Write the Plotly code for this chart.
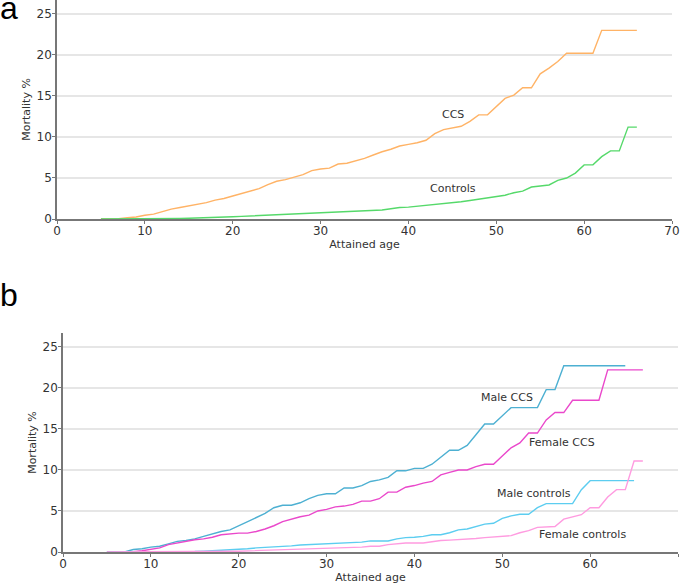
import plotly.graph_objects as go

# attained age, one point per year
ages = list(range(5, 67))

# panel a
ccs = [0, 0, 0.05, 0.15, 0.25, 0.45, 0.6, 0.9, 1.2, 1.4, 1.6, 1.8, 2.0, 2.3, 2.5, 2.8,
       3.1, 3.4, 3.7, 4.2, 4.6, 4.8, 5.1, 5.4, 5.9, 6.1, 6.2, 6.7, 6.8, 7.1, 7.4, 7.8,
       8.2, 8.5, 8.9, 9.1, 9.3, 9.6, 10.4, 10.9, 11.1, 11.3, 11.9, 12.7, 12.7, 13.7,
       14.7, 15.1, 16.0, 16.0, 17.7, 18.4, 19.2, 20.2, 20.2, 20.2, 20.2, 23.0, 23.0,
       23.0, 23.0, 23.0]
controls = [0, 0, 0.01, 0.02, 0.03, 0.04, 0.05, 0.06, 0.07, 0.08, 0.1, 0.12, 0.15, 0.18,
            0.22, 0.27, 0.32, 0.37, 0.42, 0.46, 0.5, 0.55, 0.6, 0.65, 0.68, 0.72, 0.78,
            0.82, 0.86, 0.9, 0.95, 1.0, 1.1, 1.25, 1.4, 1.45, 1.55, 1.65, 1.75, 1.85, 2.0,
            2.1, 2.25, 2.4, 2.55, 2.7, 2.9, 3.2, 3.4, 3.9, 4.0, 4.15, 4.7, 5.0, 5.6, 6.6,
            6.6, 7.6, 8.3, 8.3, 11.2, 11.2]

# panel b
male_ccs = [0, 0, 0, 0.3, 0.4, 0.6, 0.7, 1.0, 1.3, 1.4, 1.6, 1.9, 2.2, 2.5, 2.7, 3.2,
            3.8, 4.3, 4.7, 5.4, 5.7, 5.7, 6.0, 6.5, 6.9, 7.1, 7.1, 7.8, 7.8, 8.1, 8.6,
            8.8, 9.1, 9.9, 9.9, 10.2, 10.2, 10.7, 11.5, 12.4, 12.4, 13.0, 14.3, 15.6,
            15.6, 16.6, 17.6, 17.6, 17.6, 17.6, 19.8, 19.8, 22.7, 22.7, 22.7, 22.7, 22.7,
            22.7, 22.7, 22.7]
female_ccs = [0, 0, 0, 0.05, 0.15, 0.3, 0.5, 0.9, 1.1, 1.3, 1.5, 1.6, 1.8, 2.1, 2.2, 2.3,
              2.3, 2.5, 2.8, 3.2, 3.7, 4.0, 4.3, 4.5, 5.0, 5.2, 5.5, 5.6, 5.8, 6.2, 6.2,
              6.5, 7.3, 7.3, 7.9, 8.1, 8.4, 8.6, 9.4, 9.7, 10.0, 10.0, 10.4, 10.7, 10.7,
              11.7, 12.7, 13.3, 14.5, 14.5, 16.1, 17.0, 17.0, 18.5, 18.5, 18.5, 18.5,
              22.2, 22.2, 22.2, 22.2, 22.2]
male_controls = [0, 0, 0, 0, 0.01, 0.02, 0.02, 0.03, 0.04, 0.05, 0.06, 0.1, 0.15, 0.2,
                 0.25, 0.3, 0.4, 0.5, 0.55, 0.6, 0.7, 0.75, 0.85, 0.9, 0.95, 1.0, 1.1,
                 1.1, 1.15, 1.2, 1.35, 1.35, 1.35, 1.6, 1.75, 1.8, 1.9, 2.1, 2.1, 2.35,
                 2.7, 2.8, 3.1, 3.4, 3.5, 4.1, 4.4, 4.6, 4.6, 5.4, 5.9, 5.9, 5.9, 5.9,
                 7.6, 8.7, 8.7, 8.7, 8.7, 8.7, 8.7]
female_controls = [0, 0, 0, 0, 0.01, 0.02, 0.02, 0.03, 0.03, 0.04, 0.05, 0.06, 0.07,
                   0.08, 0.09, 0.1, 0.13, 0.16, 0.19, 0.22, 0.25, 0.29, 0.33, 0.37, 0.41,
                   0.45, 0.49, 0.53, 0.56, 0.6, 0.7, 0.7, 0.9, 1.0, 1.1, 1.1, 1.1, 1.25,
                   1.4, 1.45, 1.5, 1.55, 1.65, 1.75, 1.85, 1.9, 2.0, 2.35, 2.6, 3.0, 3.05,
                   3.1, 4.0, 4.3, 4.55, 5.4, 5.4, 6.7, 7.6, 7.6, 11.1, 11.1]

y_ticks = [0, 5, 10, 15, 20, 25]
x_ticks = [0, 10, 20, 30, 40, 50, 60, 70]

W, H = 685, 586
FONT = "DejaVu Sans"

fig = go.Figure()

series = [
    (ccs, "CCS", "#ffb366", "x", "y"),
    (controls, "Controls", "#55d96a", "x", "y"),
    (male_ccs, "Male CCS", "#4db0d2", "x2", "y2"),
    (female_ccs, "Female CCS", "#ea48cb", "x2", "y2"),
    (male_controls, "Male controls", "#5ccdf0", "x2", "y2"),
    (female_controls, "Female controls", "#ff9be0", "x2", "y2"),
]
for vals, name, color, xa, ya in series:
    fig.add_trace(go.Scatter(
        x=ages[:len(vals)], y=vals, name=name, mode="lines",
        line=dict(color=color, width=1.4), xaxis=xa, yaxis=ya
    ))

# curve labels
labels = [
    ("CCS", 45.1, 12.7, "x", "y"),
    ("Controls", 45.1, 3.7, "x", "y"),
    ("Male CCS", 50.5, 18.8, "x2", "y2"),
    ("Female CCS", 56.8, 13.4, "x2", "y2"),
    ("Male controls", 53.6, 7.1, "x2", "y2"),
    ("Female controls", 59.1, 2.1, "x2", "y2"),
]
for text, x, y, xr, yr in labels:
    fig.add_annotation(x=x, y=y, xref=xr, yref=yr, text=text, showarrow=False,
                       font=dict(family=FONT, size=11, color="#333333"))

# panel letters
fig.add_annotation(x=0, y=1 + 12 / H, xref="paper", yref="paper", text="a", showarrow=False,
                   xanchor="left", yanchor="top", xshift=-2,
                   font=dict(family="Liberation Sans", size=32, color="black"))
fig.add_annotation(x=0, y=1 - 275 / H, xref="paper", yref="paper", text="b", showarrow=False,
                   xanchor="left", yanchor="top", xshift=-2,
                   font=dict(family="Liberation Sans", size=32, color="black"))

xstyle = dict(range=[0, 70], tickvals=x_ticks, showgrid=False, zeroline=False,
              showline=True, linecolor="#777777", linewidth=1.5,
              ticks="outside", ticklen=3, tickcolor="#777777",
              tickfont=dict(family=FONT, size=12, color="#333333"),
              ticklabelstandoff=-3,
              title=dict(text="Attained age", font=dict(family=FONT, size=11, color="#333333"),
                         standoff=3),
              automargin=False)
ystyle = dict(range=[0, 26.7], tickvals=y_ticks, showgrid=True, gridcolor="#e6e6e6",
              gridwidth=1.5, zeroline=False, showline=True, linecolor="#777777",
              linewidth=1.5, ticks="outside", ticklen=3, tickcolor="#777777",
              tickfont=dict(family=FONT, size=12, color="#333333"),
              ticklabelstandoff=-2,
              title=dict(text="Mortality %", font=dict(family=FONT, size=11, color="#333333"),
                         standoff=4),
              automargin=False)

fig.update_layout(
    width=W, height=H,
    margin=dict(l=0, r=0, t=0, b=0),
    paper_bgcolor="white",
    plot_bgcolor="white",
    showlegend=False,
    xaxis=dict(xstyle, domain=[57 / W, 672 / W], anchor="y"),
    yaxis=dict(ystyle, domain=[1 - 219 / H, 1.0], anchor="x"),
    xaxis2=dict(xstyle, domain=[63 / W, 678 / W], anchor="y2"),
    yaxis2=dict(ystyle, domain=[1 - 552 / H, 1 - 333 / H], anchor="x2"),
)

# drop the page's default body margin so the figure sits at the window's corner
fig.write_html("out.html", config={"displayModeBar": False},
               post_script="document.body.style.margin='0';")
